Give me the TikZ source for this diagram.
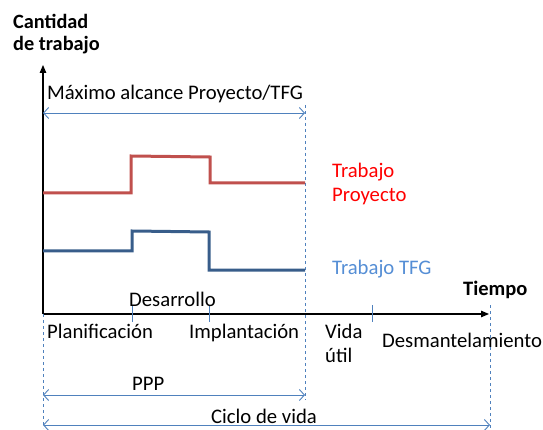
\documentclass[tikz,border=0pt]{standalone}
\usepackage{fontspec}
\setmainfont{Carlito}
\usetikzlibrary{arrows.meta}

\definecolor{proyline}{RGB}{192,80,77}
\definecolor{tfgline}{RGB}{56,93,138}
\definecolor{guide}{RGB}{79,129,189}
\definecolor{proytext}{RGB}{255,0,0}
\definecolor{tfgtext}{RGB}{85,142,213}

\begin{document}
\begin{tikzpicture}[x=1pt,y=-1pt,
   lbl/.style={anchor=base west,inner sep=0pt,align=left,
      font=\fontsize{20.7}{24}\selectfont},
   guideline/.style={guide,dashed,line width=0.8pt},
   span/.style={guide,line width=0.9pt,
      {Straight Barb[length=5pt,width=11pt]}-{Straight Barb[length=5pt,width=11pt]}},
   phasetick/.style={guide,line width=0.8pt},
   axis/.style={line width=1.1pt,-{Triangle[length=8pt,width=6.5pt]}},
   workline/.style={line width=3pt}]
   \useasboundingbox (0,0) rectangle (543,430);
   % axes
   \coordinate (O) at (43,314);
   \coordinate (ytop) at (43,65);
   \coordinate (xend) at (489,314);
   \draw[axis] (O) -- (ytop);
   \draw[axis] (O) -- (xend);
   \node[lbl,font=\fontsize{20.3}{22}\bfseries] (cantidad) at (13,51) {Cantidad\\de trabajo};
   \node[lbl,font=\fontsize{20.5}{22}\bfseries] (tiempo) at (463,295) {Tiempo};
   % dashed limits
   \coordinate (Obot) at (43,428);
   \coordinate (ppptop) at (305,105);
   \coordinate (pppbot) at (305,400);
   \coordinate (cictop) at (490,305);
   \coordinate (cicbot) at (490,428);
   \draw[guideline] (O) -- (Obot);
   \draw[guideline] (ppptop) -- (pppbot);
   \draw[guideline] (cictop) -- (cicbot);
   % spans
   \coordinate (maxa) at (43,113);
   \coordinate (maxb) at (305,113);
   \coordinate (pppa) at (43,395);
   \coordinate (pppb) at (305,395);
   \coordinate (cica) at (43,425);
   \coordinate (cicb) at (490,425);
   \draw[span] (maxa) -- (maxb);
   \draw[span] (pppa) -- (pppb);
   \draw[span] (cica) -- (cicb);
   \node[lbl] (maximo) at (47,100) {Máximo alcance Proyecto/TFG};
   \node[lbl] (ppp) at (132,390) {PPP};
   \node[lbl] (ciclo) at (211,423) {Ciclo de vida};
   % work curves
   \draw[workline,proyline] (43,193) -- (131,193) -- (131,156) -- (210,157)
      -- (210,183) -- (305,183);
   \draw[workline,tfgline] (43,251) -- (132,251) -- (132,231) -- (209,232)
      -- (209,270) -- (305,270);
   \node[lbl,text=proytext] (trabproy) at (332,202) {Trabajo\\Proyecto};
   \node[lbl,text=tfgtext] (trabtfg) at (332,274) {Trabajo TFG};
   % phases
   \coordinate (t1a) at (132,306); \coordinate (t1b) at (132,322);
   \coordinate (t2a) at (209,305); \coordinate (t2b) at (209,322);
   \coordinate (t3a) at (372,305); \coordinate (t3b) at (372,322);
   \draw[phasetick] (t1a) -- (t1b);
   \draw[phasetick] (t2a) -- (t2b);
   \draw[phasetick] (t3a) -- (t3b);
   \node[lbl] (desarrollo) at (129,306) {Desarrollo};
   \node[lbl] (planif) at (47,338) {Planificación};
   \node[lbl] (implant) at (189,338) {Implantación};
   \node[lbl] (vida) at (325,362) {Vida\\útil};
   \node[lbl] (desmant) at (382,347) {Desmantelamiento};
\end{tikzpicture}
\end{document}
